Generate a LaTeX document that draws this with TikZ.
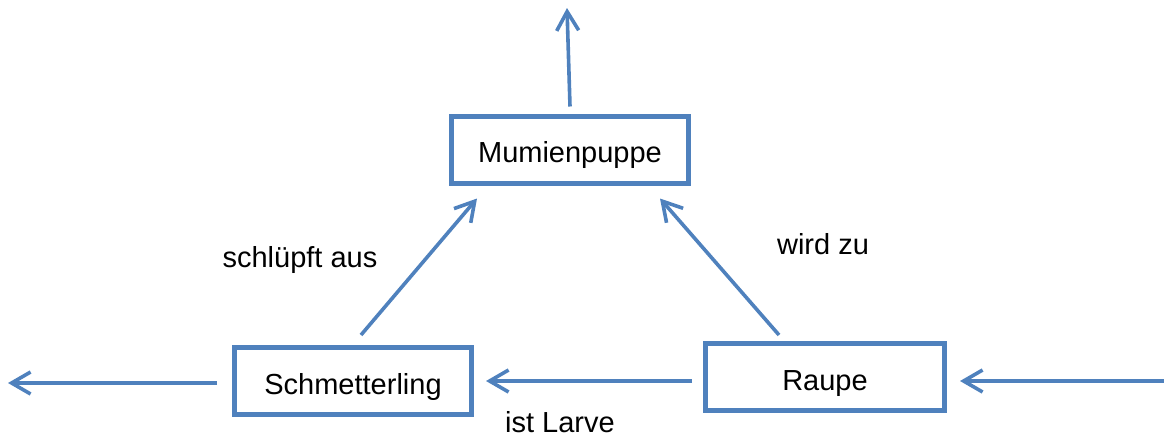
\documentclass[tikz,border=0pt]{standalone}
\usepackage{fontspec}
\setmainfont{Liberation Sans}
\usetikzlibrary{arrows.meta,calc}
\definecolor{boxblue}{RGB}{79,129,189}
\begin{document}
\begin{tikzpicture}[x=1pt,y=-1pt,
  font=\fontsize{29}{34}\selectfont,
  stagebox/.style={draw=boxblue, line width=5pt, fill=white, inner sep=0pt,
    minimum width=#1, minimum height=67pt, text height=26pt, text depth=0pt},
  arr/.style={draw=boxblue, line width=3.6pt, -{Straight Barb[length=19pt,width=22pt,line width=3.6pt]}},
  lbl/.style={inner sep=0pt, anchor=base}]
\useasboundingbox (0,0) rectangle (1164,440);
\node[stagebox=237pt] (M) at (570,149.5) {Mumienpuppe};
\node[stagebox=237pt] (S) at (353,381) {Schmetterling};
\node[stagebox=239pt] (R) at (825,377) {Raupe};
\coordinate (top) at (567,8);
\coordinate (left) at (8,383);
\coordinate (right) at (1164,381);
\draw[arr] ([yshift=7pt]M.north) -- (top);
\draw[arr] ([xshift=-15pt,yshift=-2pt]S.west) -- (left);
\draw[arr] (right) -- ([xshift=13pt,yshift=-4pt]R.east);
\draw[arr] ([xshift=-11pt,yshift=-4pt]R.west) -- ([xshift=12pt]S.east);
\draw[arr] ([xshift=8pt,yshift=10pt]S.north) -- ([xshift=-93pt,yshift=-13pt]M.south);
\draw[arr] ([xshift=-46pt,yshift=6pt]R.north) -- ([xshift=90pt,yshift=-13pt]M.south);
\node[lbl] (l1) at (300,267) {schlüpft aus};
\node[lbl] (l2) at (823,254) {wird zu};
\node[lbl] (l3) at (560,432) {ist Larve};
\end{tikzpicture}
\end{document}
